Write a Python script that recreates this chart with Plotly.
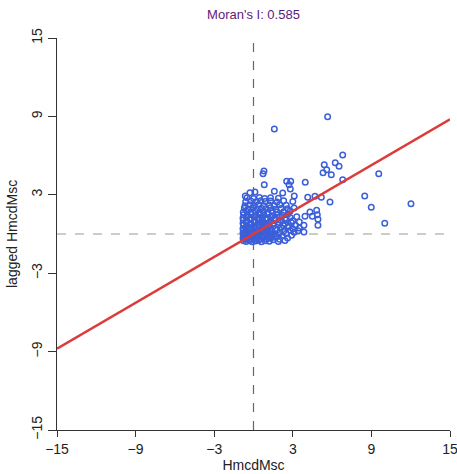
import plotly.graph_objects as go

# Moran scatter: standardized HmcdMsc (x) vs its spatial lag (y)
hmcd = [
    # dense cluster
    -0.75, -0.55, -0.3, -0.1, 0.15, 0.4, 0.6, 0.9, 1.2, 1.5, 1.9, 2.4,
    -0.8, -0.6, -0.45, -0.2, 0.05, 0.3, 0.5, 0.75, 1.0, 1.3, 1.6, 2.0, 2.6,
    -0.78, -0.62, -0.4, -0.15, 0.1, 0.35, 0.6, 0.85, 1.1, 1.4, 1.75, 2.2, 2.9,
    -0.8, -0.6, -0.35, -0.05, 0.2, 0.45, 0.7, 0.95, 1.25, 1.6, 2.0, 2.5, 3.1,
    -0.78, -0.55, -0.3, 0.0, 0.3, 0.55, 0.8, 1.1, 1.4, 1.8, 2.3, 2.8, 3.4,
    -0.8, -0.6, -0.35, -0.1, 0.15, 0.45, 0.75, 1.0, 1.3, 1.65, 2.1, 2.6, 3.0, 3.5,
    -0.75, -0.5, -0.2, 0.1, 0.4, 0.65, 0.9, 1.2, 1.55, 1.9, 2.3, 2.7, 3.2,
    -0.8, -0.55, -0.25, 0.05, 0.35, 0.6, 0.85, 1.15, 1.5, 1.9, 2.4, 2.9, 3.5,
    -0.78, -0.5, -0.2, 0.1, 0.4, 0.7, 1.0, 1.3, 1.7, 2.1, 2.5, 3.0,
    -0.8, -0.55, -0.25, 0.05, 0.35, 0.65, 0.95, 1.3, 1.6, 2.0, 2.4, 2.8, 3.3,
    -0.75, -0.45, -0.15, 0.2, 0.5, 0.8, 1.1, 1.45, 1.8, 2.2, 2.6,
    -0.78, -0.5, -0.2, 0.15, 0.45, 0.75, 1.1, 1.4, 1.8, 2.3, 2.8,
    -0.7, -0.4, -0.05, 0.3, 0.6, 0.95, 1.3, 1.7, 2.1, 2.6, 3.1,
    -0.65, -0.3, 0.05, 0.4, 0.8, 1.2, 1.6, 2.0, 2.5,
    -0.6, -0.2, 0.2, 0.55, 0.9, 1.3, 1.8, 2.3, 3.0,
    -0.5, 0.0, 0.45, 0.85, 1.3, 1.9,
    # scattered points
    5.66, 1.59, 6.81, 5.40, 6.24, 6.53, 5.31, 5.59, 5.94, 9.56,
    6.81, 3.95, 2.53, 2.84, 2.71, 2.81, 0.80, 0.73, 0.82, 8.49,
    8.99, 10.02, 5.84, 5.18, 4.69, 4.14, 3.11, -0.63, 2.23, 1.59,
    4.82, 4.87, 4.92, 4.92, 4.49, 4.31, 3.93, 3.85, 3.85, 12.02,
    -0.27, 0.11,
]
lagged = [
    -0.52, -0.58, -0.49, -0.60, -0.54, -0.47, -0.59, -0.51, -0.56, -0.44, -0.57, -0.50,
    -0.33, -0.38, -0.28, -0.36, -0.41, -0.30, -0.37, -0.27, -0.39, -0.32, -0.25, -0.40, -0.31,
    -0.12, -0.18, -0.10, -0.20, -0.08, -0.16, -0.22, -0.11, -0.17, -0.06, -0.19, -0.13, -0.09,
    0.08, 0.02, 0.11, 0.01, 0.07, -0.01, 0.12, 0.04, 0.09, 0.00, 0.10, 0.03, 0.14,
    0.28, 0.22, 0.31, 0.20, 0.26, 0.33, 0.19, 0.29, 0.23, 0.30, 0.21, 0.27, 0.24,
    0.42, 0.49, 0.40, 0.51, 0.43, 0.47, 0.39, 0.50, 0.44, 0.41, 0.48, 0.52, 0.40, 0.46,
    0.68, 0.62, 0.70, 0.61, 0.66, 0.72, 0.60, 0.69, 0.63, 0.71, 0.64, 0.59, 0.67,
    0.82, 0.89, 0.80, 0.91, 0.84, 0.88, 0.79, 0.87, 0.83, 0.90, 0.81, 0.86, 0.92,
    1.08, 1.02, 1.10, 1.00, 1.07, 1.03, 1.11, 0.99, 1.06, 1.04, 1.09, 1.01,
    1.22, 1.29, 1.20, 1.31, 1.24, 1.27, 1.19, 1.30, 1.23, 1.28, 1.21, 1.26, 1.32,
    1.48, 1.42, 1.50, 1.41, 1.47, 1.43, 1.51, 1.40, 1.46, 1.44, 1.49,
    1.66, 1.73, 1.68, 1.75, 1.67, 1.72, 1.65, 1.74, 1.69, 1.71, 1.76,
    1.98, 1.92, 2.00, 1.91, 1.97, 1.93, 2.01, 1.90, 1.96, 1.94, 1.99,
    2.17, 2.24, 2.19, 2.25, 2.16, 2.22, 2.18, 2.23, 2.20,
    2.47, 2.53, 2.46, 2.55, 2.49, 2.52, 2.45, 2.54, 2.48,
    2.78, 2.72, 2.80, 2.71, 2.77, 2.74,
    8.97, 8.03, 6.04, 5.30, 5.46, 5.18, 4.69, 4.92, 4.54, 4.61,
    4.15, 3.96, 4.03, 4.03, 3.77, 3.44, 4.82, 4.61, 3.77, 2.91,
    2.04, 0.82, 2.45, 2.81, 2.88, 2.81, 2.91, 2.91, 3.14, 3.27,
    1.81, 1.48, 1.12, 0.67, 1.35, 1.68, 1.35, 0.67, 0.15, 2.32,
    3.16, 3.21,
]

morans_i = 0.585
line_x = [-15, 15]
mean_x = 0.0
mean_lag = 0.0
tick_vals = [-15, -9, -3, 3, 9, 15]

FONT = "Liberation Sans, Arial, sans-serif"
W, H = 457, 474
ML, MR, MT, MB = 57, 7, 38, 44

fig = go.Figure()
fig.add_shape(type="line", x0=mean_x, x1=mean_x, y0=-15, y1=15, xref="x", yref="y",
              line=dict(color="#666666", width=1.2, dash="dash"), layer="below")
fig.add_shape(type="line", x0=-15, x1=15, y0=mean_lag, y1=mean_lag, xref="x", yref="y",
              line=dict(color="#999999", width=1.2, dash="dash"), layer="below")

fig.add_trace(go.Scatter(
    x=hmcd, y=lagged, mode="markers",
    marker=dict(symbol="circle-open", size=5.5, color="#3b5fd9", line=dict(width=1.5, color="#3b5fd9")),
    hoverinfo="skip", showlegend=False,
))
fig.add_trace(go.Scatter(
    x=line_x, y=[morans_i * v for v in line_x], mode="lines",
    line=dict(color="#dd3b3b", width=2.5), showlegend=False, hoverinfo="skip",
))

axis_common = dict(
    range=[-15, 15], tickvals=tick_vals, ticks="outside", ticklen=6, tickwidth=1,
    tickcolor="#333333", showline=True, linecolor="#333333", linewidth=1,
    showgrid=False, zeroline=False, mirror=False, ticklabeloverflow="allow",
    automargin=False,
    tickfont=dict(family=FONT, size=14, color="#222222"),
)

fig.update_layout(
    width=W, height=H,
    margin=dict(l=ML, r=MR, t=MT, b=MB, autoexpand=False),
    paper_bgcolor="white", plot_bgcolor="white",
    title=dict(text="Moran's I: 0.585", x=0.5, xref="paper", y=1 - 14 / H, yanchor="middle",
               xanchor="center", font=dict(family=FONT, size=13, color="#5e1a78")),
    xaxis=dict(axis_common, ticklabelstandoff=0,
               title=dict(text="HmcdMsc", standoff=2, font=dict(family=FONT, size=14, color="#222222"))),
    yaxis=dict(axis_common, tickangle=-90, ticklen=8, ticklabelstandoff=0),
    annotations=[dict(text="lagged HmcdMsc", xref="paper", yref="paper",
                      x=(12 - ML) / (W - ML - MR), y=0.5, xanchor="center", yanchor="middle",
                      textangle=-90, showarrow=False,
                      font=dict(family=FONT, size=14, color="#222222"))],
)

fig.write_html("out.html")
